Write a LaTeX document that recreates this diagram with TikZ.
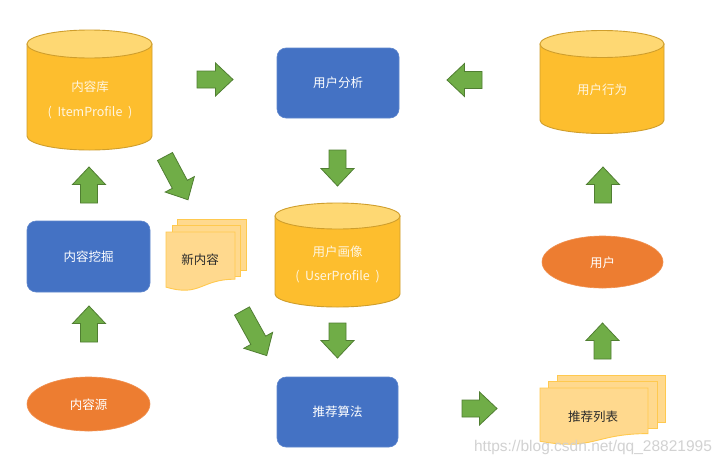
\documentclass[tikz,border=0pt]{standalone}
\usepackage{fontspec}
\setmainfont{Noto Sans CJK SC}
\newfontfamily\wmfont{Liberation Sans}
\definecolor{cylbodyc}{HTML}{FDBE2E}
\definecolor{cyltopc}{HTML}{FED873}
\definecolor{cyllinec}{HTML}{CF9E2C}
\definecolor{boxblue}{HTML}{4472C4}
\definecolor{ellorange}{HTML}{ED7D31}
\definecolor{greenfill}{HTML}{70AD47}
\definecolor{greenline}{HTML}{507E32}
\definecolor{docfill}{HTML}{FFD98E}
\definecolor{docline}{HTML}{FFC94F}
\definecolor{lighttext}{HTML}{FFF6E2}
\definecolor{darktext}{HTML}{2B2B2B}
\definecolor{wmgray}{HTML}{D2D2D2}
\tikzset{
  garrow/.style={fill=greenfill, draw=greenline, line width=0.8pt, line join=miter},
  cylbody/.style={fill=cylbodyc, draw=cyllinec, line width=0.9pt},
  cyltop/.style={fill=cyltopc, draw=cyllinec, line width=0.9pt},
  bluebox/.style={fill=boxblue, draw=boxblue!85!white, line width=0.6pt, rounded corners=9pt},
  orangeell/.style={fill=ellorange, draw=ellorange!85!white, line width=0.6pt},
  docstyle/.style={fill=docfill, draw=docline, line width=0.9pt},
  lbl/.style={font=\fontsize{12.5}{15}\selectfont, inner sep=0pt},
  whitelbl/.style={lbl, text=white},
  creamlbl/.style={lbl, text=lighttext},
  darklbl/.style={lbl, text=darktext},
}
% block arrow: tail x, tail y (image coords), angle, length
\newcommand\blockarr[4]{%
  \begin{scope}[shift={(#1,-#2)},rotate=#3]
    \draw[garrow] (0,-8.5) -- ({#4-17.5},-8.5) -- ({#4-17.5},-16.5) -- (#4,0)
      -- ({#4-17.5},16.5) -- ({#4-17.5},8.5) -- (0,8.5) -- cycle;
  \end{scope}}
% cylinder: cx, ytop centre, ybottom centre, rx, ry
\newcommand\cylshape[5]{%
  \filldraw[cylbody] ({#1-#4},-#2) -- ({#1-#4},-#3)
    arc[start angle=180,end angle=360,x radius=#4,y radius=#5] -- ({#1+#4},-#2) -- cycle;
  \filldraw[cyltop] (#1,-#2) ellipse[x radius=#4, y radius=#5];}
% document with wavy bottom: x1, ytop, x2, h
\newcommand\docshape[4]{%
  \filldraw[docstyle] (#1,-#2) -- (#3,-#2) -- (#3,{-(#2+0.8*#4)})
    .. controls ({(#1+#3)/2},{-(#2+0.8*#4)}) and ({(#1+#3)/2},{-(#2+1.107*#4)}) .. (#1,{-(#2+0.934*#4)}) -- cycle;}
\newcommand\pgap{\hspace{0.45em}}
\begin{document}
\begin{tikzpicture}[x=1pt,y=1pt]
\useasboundingbox (0,0) rectangle (725,-466);
\fill[white] (0,0) rectangle (725,-466);

% cylinders
\cylshape{89.5}{44}{136}{62.5}{14}
\node[creamlbl] (kulib) at (90,-87) {内容库};
\node[creamlbl] (kuitem) at (90,-113) {(\pgap ItemProfile\pgap)};

\cylshape{602}{44}{120}{62}{13.5}
\node[creamlbl] (behav) at (602,-90) {用户行为};

\cylshape{337.5}{216}{294}{62.5}{13}
\node[creamlbl] (portrait) at (337.5,-252) {用户画像};
\node[creamlbl] (uprof) at (337.5,-277) {(\pgap UserProfile\pgap)};

% blue boxes
\filldraw[bluebox] (277,-48) rectangle (399,-118);
\node[whitelbl] (analysis) at (338,-83) {用户分析};
\filldraw[bluebox] (27,-221) rectangle (150,-292);
\node[whitelbl] (mining) at (88.5,-257) {内容挖掘};
\filldraw[bluebox] (277,-377) rectangle (398,-447);
\node[whitelbl] (algo) at (337.5,-412) {推荐算法};

% ellipses
\filldraw[orangeell] (602.5,-262) ellipse[x radius=60.5, y radius=26];
\node[whitelbl] (user) at (602.5,-263) {用户};
\filldraw[orangeell] (88.5,-404) ellipse[x radius=61.5, y radius=27];
\node[whitelbl] (source) at (88.5,-405) {内容源};

% documents: 新内容
\filldraw[docstyle] (177,-219) rectangle (246,-270);
\filldraw[docstyle] (172,-225.5) rectangle (240,-276);
\docshape{166}{232}{235}{59}
\node[darklbl] (newc) at (200,-260) {新内容};

% documents: 推荐列表
\filldraw[docstyle] (557,-375) rectangle (665,-422);
\filldraw[docstyle] (548,-381.5) rectangle (657,-428);
\docshape{540}{388}{648}{57}
\node[darklbl] (reclist) at (593,-417) {推荐列表};

% block arrows
\blockarr{197}{79.5}{0}{36}
\blockarr{482}{80}{180}{35}
\blockarr{165}{156.5}{-62}{49}
\blockarr{89}{203}{90}{36}
\blockarr{337.5}{150}{-90}{36}
\blockarr{603}{203}{90}{36}
\blockarr{89}{342}{90}{36}
\blockarr{242}{311}{-61}{51}
\blockarr{337.5}{323}{-90}{35}
\blockarr{602.5}{359}{90}{36}
\blockarr{462}{408.5}{0}{35}

% watermark
\node[inner sep=0pt, text=wmgray, font=\wmfont\fontsize{15.5}{18}\selectfont] (wm) at (593,-447) {https://blog.csdn.net/qq\_28821995};
\end{tikzpicture}
\end{document}
